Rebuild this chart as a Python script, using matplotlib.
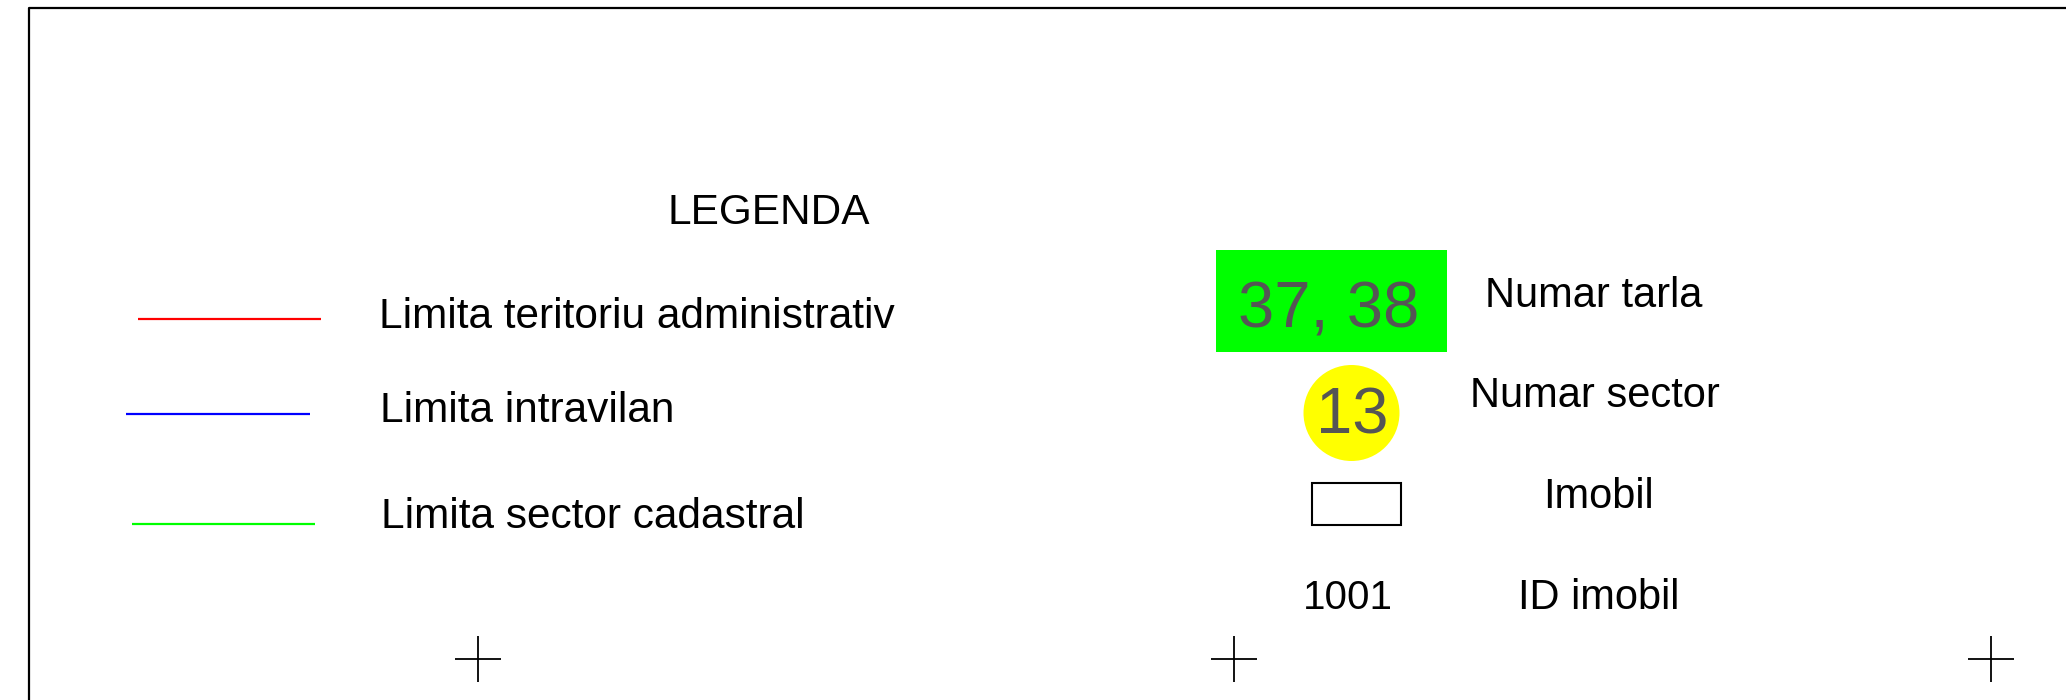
import matplotlib
matplotlib.use("Agg")
import matplotlib.pyplot as plt
from matplotlib.patches import Rectangle, Circle

plt.rcParams['font.family'] = ['Liberation Sans', 'DejaVu Sans']

# ---- content ----
legend_title = "LEGENDA"
line_labels = ["Limita teritoriu administrativ", "Limita intravilan", "Limita sector cadastral"]
line_colors = ["#ff0000", "#0000ff", "#00ff00"]
symbol_labels = ["Numar tarla", "Numar sector", "Imobil", "ID imobil"]
tarla_text = "37, 38"
sector_text = "13"
imobil_id_text = "1001"

# ---- layout (pixel coordinates, y downwards) ----
W, H = 2066, 700
fig = plt.figure(figsize=(W / 100, H / 100), dpi=100)
ax = fig.add_axes([0, 0, 1, 1])
ax.set_xlim(0, W)
ax.set_ylim(H, 0)
ax.axis('off')

# frame (left and top edges visible)
ax.plot([29, 29, W + 5], [H + 5, 8, 8], color='black', lw=1.6, solid_capstyle='butt')

# title
ax.text(769, 224, legend_title, fontsize=30.5, ha='center', va='baseline', color='black')

# line legend entries
line_x = [(138, 321), (126, 310), (132, 315)]
line_y = [319, 414, 524]
label_x = [379, 380, 381]
label_base = [328, 422, 528]
for lab, col, (x0, x1), y, lx, lb in zip(line_labels, line_colors, line_x, line_y, label_x, label_base):
    ax.plot([x0, x1], [y, y], color=col, lw=1.6, solid_capstyle='butt')
    ax.text(lx, lb, lab, fontsize=30.5, ha='left', va='baseline', color='black')

# Numar tarla: green box
ax.add_patch(Rectangle((1216, 250), 231, 102, facecolor='#00ff00', edgecolor='none'))
ax.text(1329, 327, tarla_text, fontsize=47, ha='center', va='baseline', color='#555555')

# Numar sector: yellow circle
ax.add_patch(Circle((1351.5, 413), 48, facecolor='#ffff00', edgecolor='none'))
ax.text(1352, 433, sector_text, fontsize=47, ha='center', va='baseline', color='#555555')

# Imobil: empty rectangle
ax.add_patch(Rectangle((1312, 483), 89, 42, facecolor='white', edgecolor='black', lw=1.5))

# ID imobil
ax.text(1303, 609, imobil_id_text, fontsize=29, ha='left', va='baseline', color='black')

sym_x = [1485, 1470, 1543, 1518]
sym_base = [307, 407, 508, 609]
sym_size = [30, 30, 30, 30]
for lab, sx, sb, fs in zip(symbol_labels, sym_x, sym_base, sym_size):
    ax.text(sx, sb, lab, fontsize=fs, ha='left', va='baseline', color='black')

# registration crosses
cross_x = [478, 1234, 1991]
cross_y = [659, 659, 659]
ax.plot(cross_x, cross_y, linestyle='none', marker='+', markersize=33,
        markeredgewidth=1.3, color='black')

fig.savefig("out.png", dpi=100, facecolor='white')
